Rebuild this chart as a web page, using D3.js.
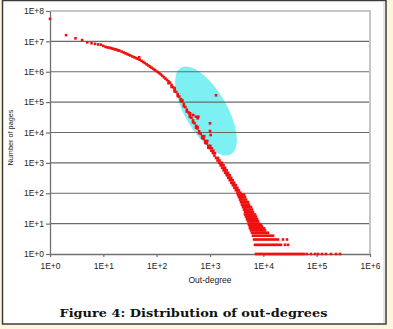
<!DOCTYPE html>
<html><head><meta charset="utf-8">
<script src="https://cdn.jsdelivr.net/npm/d3@7"></script>
<style>html,body{margin:0;padding:0;background:#fcf7dc;}svg{display:block;}</style>
</head><body>
<svg id="c" width="393" height="329"></svg>
<script>
// ---- data ----
const xTickValues = [1, 10, 100, 1e3, 1e4, 1e5, 1e6];
const xTickLabels = ["1E+0", "1E+1", "1E+2", "1E+3", "1E+4", "1E+5", "1E+6"];
const yTickValues = [1, 10, 100, 1e3, 1e4, 1e5, 1e6, 1e7, 1e8];
const yTickLabels = ["1E+0", "1E+1", "1E+2", "1E+3", "1E+4", "1E+5", "1E+6", "1E+7", "1E+8"];

const curveDegree = [1,2,3,4,5,6,7,8,9,10,11,12,13,14,15,16,17,18,19,20,22,24,26,28,30,32,35,38,41,44,48,52,56,60,65,70,75,80,86,92,98,105,112,120,128,137,146,156,167,178,190,203,217,232,248,265,283,302,323,345,368,393,420,449,480,513,548,585,625,668,714,763,815,871,930,994,1062,1135,1212,1295,1384,1478,1579,1687,1803,1926,2058,2198,2349,2509,2681,2864,3060,3269,3493,3731,3986,4259,4550,4861,5193,5500,5900,6300];
const curveCount = [5.5e7,1.6e7,1.26e7,1.1e7,9.3e6,8.7e6,8.3e6,7.9e6,7.8e6,7.1e6,6.6e6,6.3e6,6.2e6,5.96e6,5.75e6,5.56e6,5.40e6,5.24e6,5.08e6,4.95e6,4.62e6,4.32e6,4.05e6,3.82e6,3.61e6,3.44e6,3.20e6,3.00e6,2.82e6,2.67e6,2.49e6,2.29e6,2.09e6,1.93e6,1.75e6,1.61e6,1.48e6,1.36e6,1.25e6,1.15e6,1.06e6,9.73e5,8.99e5,8.13e5,7.34e5,6.58e5,5.97e5,5.37e5,4.82e5,4.37e5,3.66e5,3.09e5,2.59e5,2.17e5,1.82e5,1.53e5,1.27e5,1.04e5,8.45e4,6.89e4,5.65e4,4.63e4,3.77e4,3.07e4,2.50e4,2.03e4,1.66e4,1.36e4,1.10e4,9080,7550,6270,5240,4360,3640,3020,2510,2090,1730,1450,1200,1000,832,687,568,469,390,323,267,220,183,151,125,104,83,65,51,41,32,25,20,16,13,10];

// scatter around the main curve
const spreadDegree = [167,190,217,248,283,323,368,420,480,548,625,714,815,930,217,302,420,585,
  778,888,1014,1083,1155,1237,1412,1509,1682,1797,1920,2052,2192,2342,2501,2673,2855,3051,3259,3482,3720,
  1577,1685,1800,1924,2055,2196,2345,2506,2677,2861,3056,3265,3488];
const spreadCount  = [4.19e5,3.18e5,2.25e5,1.58e5,1.10e5,7.35e4,4.91e4,3.28e4,2.17e4,1.44e4,9570,6570,4560,3170,2.9e5,1.16e5,4.22e4,1.52e4,
  7550,5240,3640,3020,2510,2090,1450,1200,1000,832,687,568,469,390,323,267,220,183,151,125,104,
  1000,832,687,568,469,390,323,267,220,183,151,125,104];

// low-count wedge: one row per count value
const wedgeCount = [90,75,62,51,42,35,29,24,20,17,14,12,10,9,8,7,6,5,4,3,2,1];
const wedgeDegrees = [
  [3350,3652,3981,4341],
  [3498,3814,4157,4532],
  [3652,3981,4341,4732],
  [3814,4157,4532,4941,5159],
  [3981,4341,4732,5159,5387],
  [4157,4532,4941,5387,5872],
  [4341,4732,5159,5623,6131],
  [4532,4941,5387,5872,6402],
  [4532,4941,5387,5872,6402,6979],
  [4732,5159,5623,6131,6683,7286],
  [4941,5387,5872,6402,6979,7608],
  [5159,5623,6131,6683,7286,7943],
  [5387,5872,6402,6979,7608,8294],
  [5387,5872,6402,6979,7608,8294,9042],
  [5623,6131,6683,7286,7943,8660,9441],
  [5623,6131,6683,7286,7943,8660,9441,10292],
  [5872,6402,6979,7608,8294,9042,9857,10746],
  [6131,6683,7286,7943,8660,9441,10292,11220,12232],
  [6402,6979,7608,8294,9042,9857,10746,11718,12773,13924,15177],
  [6683,7286,7943,8660,9441,10292,11220,12232,13335,14538,15849,17278,18836,23374,27778],
  [6979,7608,8294,9042,9857,10746,11718,12773,13924,15177,16548,18040,19665,21441,25480,28997],
  [7286,7943,8660,9441,10292,11220,12232,13335,14538,15849,17278,18836,20535,22387,24406,26607,28997,31623,34475,37584,40973,44668,48697,53000,57876,65917,78297,93057,105925,125893,149624,185686,230409,273842]
];

// isolated points
const outlierDegree = [47,422,486,546,588,604,1000,1000,1030,1296];
const outlierCount  = [2.99e6,4.29e4,3.77e4,3.31e4,2.93e4,3.31e4,2.01e4,1.12e4,8280,1.68e5];

// highlighted region (annotation)
const ellipseCenter = [841, 51000];

// ---- chart ----
const svg = d3.select("#c");
const xs = d3.scaleLog().domain([1, 1e6]).range([50, 370]);
const ys = d3.scaleLog().domain([1, 1e8]).range([254, 11]);

svg.append("rect").attr("x", 2.5).attr("y", 0.5).attr("width", 383.5).attr("height", 323.5)
  .attr("fill", "#ffffff").attr("stroke", "#3c3c3c").attr("stroke-width", 1.5);
svg.append("line").attr("x1", 384).attr("x2", 384).attr("y1", 1).attr("y2", 323)
  .attr("stroke", "#cfcfcf").attr("stroke-width", 1);

svg.append("ellipse")
  .attr("cx", 0).attr("cy", 0).attr("rx", 50).attr("ry", 21)
  .attr("transform", `translate(${xs(ellipseCenter[0])},${ys(ellipseCenter[1])}) rotate(60)`)
  .attr("fill", "#7cf0f3");

svg.append("g").selectAll("line").data(yTickValues.slice(1, -1)).join("line")
  .attr("x1", xs(1)).attr("x2", xs(1e6)).attr("y1", d => ys(d)).attr("y2", d => ys(d))
  .attr("stroke", "#6a6a6a").attr("stroke-width", 1.2);
svg.append("path")
  .attr("d", `M${xs(1)},${ys(1e8)}H${xs(1e6)}V${ys(1)}`)
  .attr("fill", "none").attr("stroke", "#c6c6c6").attr("stroke-width", 2);

const yAxis = d3.axisLeft(ys).tickValues(yTickValues)
  .tickFormat((d, i) => yTickLabels[i]).tickSize(4).tickSizeOuter(0).tickPadding(2);
const gy = svg.append("g").attr("transform", `translate(${xs(1)},0)`).call(yAxis);
const xAxis = d3.axisBottom(xs).tickValues(xTickValues)
  .tickFormat((d, i) => xTickLabels[i]).tickSize(3).tickSizeOuter(0).tickPadding(6);
const gx = svg.append("g").attr("transform", `translate(0,${ys(1)})`).call(xAxis);
[gx, gy].forEach(g => {
  g.select(".domain").attr("stroke", "#707070").attr("stroke-width", 1.3);
  g.selectAll(".tick line").attr("stroke", "#707070").attr("stroke-width", 1.2);
  g.selectAll(".tick text").attr("font-family", "'Liberation Sans', Arial, sans-serif")
    .attr("font-size", 8.5).attr("fill", "#222");
});

const pts = [];
curveDegree.forEach((d, i) => pts.push([d, curveCount[i]]));
spreadDegree.forEach((d, i) => pts.push([d, spreadCount[i]]));
wedgeCount.forEach((c, i) => wedgeDegrees[i].forEach(d => pts.push([d, c])));
outlierDegree.forEach((d, i) => pts.push([d, outlierCount[i]]));
const s = 2.6;
svg.append("g").selectAll("rect").data(pts).join("rect")
  .attr("x", d => xs(d[0]) - s / 2).attr("y", d => ys(d[1]) - s / 2)
  .attr("width", s).attr("height", s).attr("fill", "#f01010");

svg.append("text").attr("transform", "translate(10.5,137.5) rotate(-90)")
  .attr("text-anchor", "middle").attr("dominant-baseline", "central")
  .attr("font-family", "'Liberation Sans', Arial, sans-serif").attr("font-size", 7.3).attr("fill", "#222")
  .text("Number of pages");
svg.append("text").attr("x", 210).attr("y", 280)
  .attr("text-anchor", "middle").attr("dominant-baseline", "central")
  .attr("font-family", "'Liberation Sans', Arial, sans-serif").attr("font-size", 8.5).attr("fill", "#222")
  .text("Out-degree");

svg.append("text").attr("x", 59.5).attr("y", 316.5)
  .attr("textLength", 268).attr("lengthAdjust", "spacingAndGlyphs")
  .attr("font-family", "'DejaVu Serif', 'Liberation Serif', serif").attr("font-weight", "bold")
  .attr("font-size", 11.5).attr("fill", "#111")
  .text("Figure 4: Distribution of out-degrees");
</script>
</body></html>
